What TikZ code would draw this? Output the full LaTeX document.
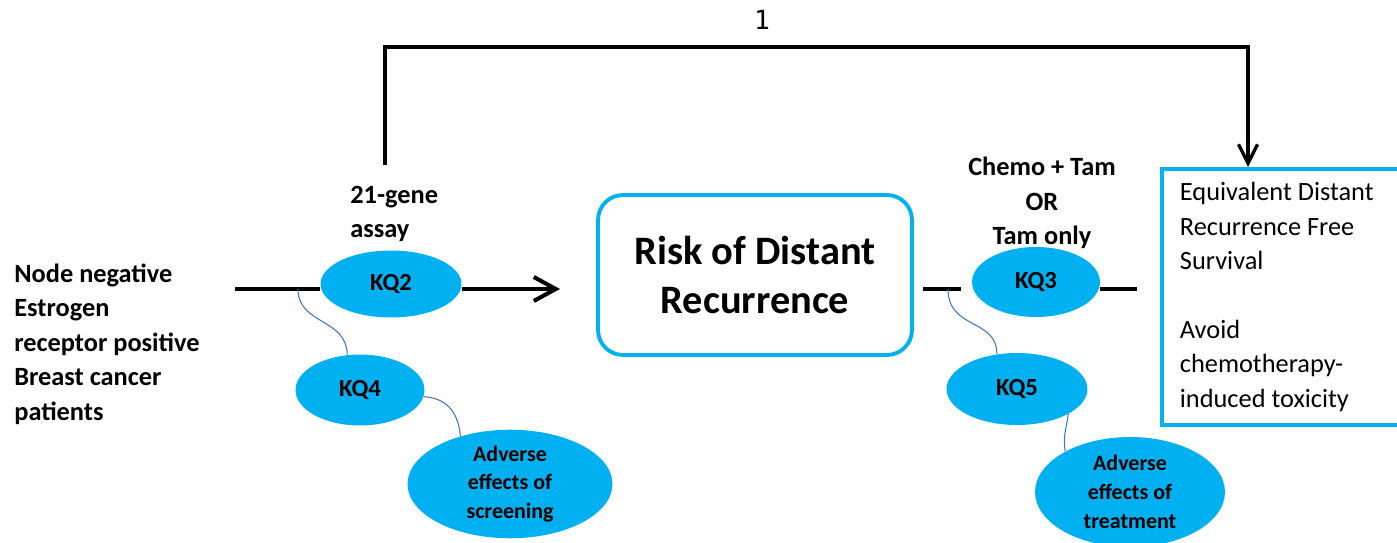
\documentclass[tikz,border=0pt]{standalone}
\usepackage{fontspec}
\setmainfont{Carlito}
\newfontfamily\numfont{DejaVu Sans Mono}
\usetikzlibrary{arrows.meta,shapes.geometric}
\definecolor{kqblue}{RGB}{0,176,240}
\definecolor{linkblue}{RGB}{68,114,196}

\begin{document}
\begin{tikzpicture}[x=0.02cm,y=-0.02cm,
	txt/.style={align=left,inner sep=0pt,font=\bfseries\fontsize{15}{19.6}\selectfont},
	kq/.style={ellipse,fill=kqblue,inner sep=0pt,font=\bfseries\fontsize{14}{17}\selectfont},
	adverse/.style={ellipse,fill=kqblue,inner sep=0pt,align=center,font=\bfseries\fontsize{12.5}{16.4}\selectfont},
	riskbox/.style={rectangle,rounded corners=0.5cm,draw=kqblue,line width=2.2pt,minimum width=6.28cm,minimum height=3.2cm,align=center,font=\bfseries\fontsize{23}{28.3}\selectfont},
	outbox/.style={rectangle,draw=kqblue,line width=2.2pt,minimum width=5.4cm,minimum height=5.12cm,text width=4.68cm,inner xsep=0.36cm,align=flush left,font=\fontsize{15}{19.6}\selectfont},
	mainline/.style={line width=2.3pt},
	bracket/.style={line width=1.9pt},
	link/.style={linkblue,line width=0.6pt}]
	\useasboundingbox		(0,0) rectangle (1397,543);

	\node[txt,anchor=west]		(patients) at (14,344) {Node negative\\Estrogen\\receptor positive\\Breast cancer\\patients};
	\node[txt,anchor=west]		(assay) at (350,214) {21-gene\\assay};
	\node[kq,minimum width=2.82cm,minimum height=1.34cm]		(kq2) at (391,284) {KQ2};
	\node[kq,minimum width=2.58cm,minimum height=1.42cm]		(kq4) at (360,390) {KQ4};
	\node[adverse,minimum width=4.1cm,minimum height=1.96cm]	(adv1) at (510,484) {Adverse\\effects of\\screening};
	\node[riskbox]				(risk) at (755,275) {Risk of Distant\\Recurrence};
	\node[txt,align=center]		(treat) at (1042,203) {Chemo + Tam\\OR\\Tam only};
	\node[kq,minimum width=2.56cm,minimum height=1.4cm]		(kq3) at (1036,282) {KQ3};
	\node[kq,minimum width=2.82cm,minimum height=1.44cm]		(kq5) at (1017,389) {KQ5};
	\node[adverse,minimum width=3.8cm,minimum height=2.2cm]	(adv2) at (1130,492) {Adverse\\effects of\\treatment};
	\node[outbox,anchor=north west]	(outcome) at (1160,167) {Equivalent Distant\\Recurrence Free\\Survival\\[19.6pt]Avoid\\chemotherapy-\\induced toxicity};
	\node[font=\numfont\fontsize{15}{17}\selectfont]		(one) at (762,20) {1};

	\coordinate (lstart) at (235,289);
	\coordinate (lend) at (560,289);
	\coordinate (rstart) at (923,289);
	\coordinate (rend) at (1137,289);
	\coordinate (bstart) at (385,165);
	\coordinate (bturn) at (1248,47);
	\coordinate (k4root) at (298,289);
	\coordinate (k5root) at (948,289);

	\draw[mainline]		(lstart) -- (kq2.west |- lstart);
	\draw[mainline,-{Straight Barb[length=4.4mm,width=4.8mm]}]		(kq2.east |- lstart) -- (lend);
	\draw[mainline]		(rstart) -- +(38,0);
	\draw[mainline]		(kq3.east |- rstart) -- (rend);
	\draw[bracket,-{Straight Barb[length=3.8mm,width=3.8mm]}]		(bstart) |- (bturn) -- (bturn |- outcome.north);

	\draw[link]		(k4root) .. controls (298,325) and (347,318) .. (kq4.110);
	\draw[link]		(kq4.-6) .. controls (445,398) and (458,410) .. (adv1.136);
	\draw[link]		(k5root) .. controls (948,330) and (997,318) .. (kq5.120);
	\draw[link]		(kq5.-26) .. controls (1066,430) and (1063,435) .. (adv2.148);
\end{tikzpicture}
\end{document}
